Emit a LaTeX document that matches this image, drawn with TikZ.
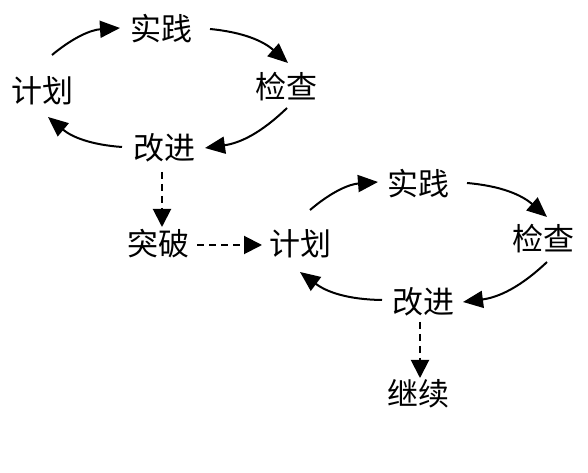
\documentclass[tikz,border=0pt]{standalone}
\usepackage{fontspec}
\newfontfamily\cjk{Noto Sans CJK SC}
\usetikzlibrary{arrows.meta}
\tikzset{
  lbl/.style={font=\cjk\fontsize{31}{31}\selectfont, inner sep=0pt},
  arr/.style={line width=2pt, -{Triangle[length=20pt,width=17pt]}},
  darr/.style={line width=2pt, dash pattern=on 7pt off 5pt, -{Triangle[length=18pt,width=18pt]}}
}
\begin{document}
\begin{tikzpicture}[x=1pt,y=1pt]
\useasboundingbox (0,0) rectangle (588,473);
% cycle 1
\node[lbl] (p1) at (42,382) {计划};
\node[lbl] (s1) at (161,444) {实践};
\node[lbl] (c1) at (286,386) {检查};
\node[lbl] (g1) at (164,325) {改进};
% links
\node[lbl] (tp) at (158,229) {突破};
% cycle 2
\node[lbl] (p2) at (300,229) {计划};
\node[lbl] (s2) at (418,289) {实践};
\node[lbl] (c2) at (543,234) {检查};
\node[lbl] (g2) at (423,171) {改进};
\node[lbl] (jx) at (418,79) {继续};

\draw[arr] ([shift={(10,36)}]p1.center) to[bend left=18] ([shift={(-41,1)}]s1.center);
\draw[arr] ([shift={(49,0)}]s1.center) to[bend left=18] ([shift={(2,24)}]c1.center);
\draw[arr] ([shift={(1,-21)}]c1.center) to[bend left=18] ([shift={(41,0)}]g1.center);
\draw[arr] ([shift={(-42,1)}]g1.center) to[bend left=18] ([shift={(6,-26)}]p1.center);
\draw[darr] ([shift={(-2,-24)}]g1.center) -- ([shift={(4,17)}]tp.center);
\draw[darr] ([shift={(39,-1)}]tp.center) -- ([shift={(-38,-1)}]p2.center);

\draw[arr] ([shift={(10,34)}]p2.center) to[bend left=18] ([shift={(-40,2)}]s2.center);
\draw[arr] ([shift={(49,1)}]s2.center) to[bend left=18] ([shift={(4,22)}]c2.center);
\draw[arr] ([shift={(4,-23)}]c2.center) to[bend left=18] ([shift={(40,0)}]g2.center);
\draw[arr] ([shift={(-41,2)}]g2.center) to[bend left=18] ([shift={(0,-28)}]p2.center);
\draw[darr] ([shift={(-3,-20)}]g2.center) -- ([shift={(2,16)}]jx.center);
\end{tikzpicture}
\end{document}
